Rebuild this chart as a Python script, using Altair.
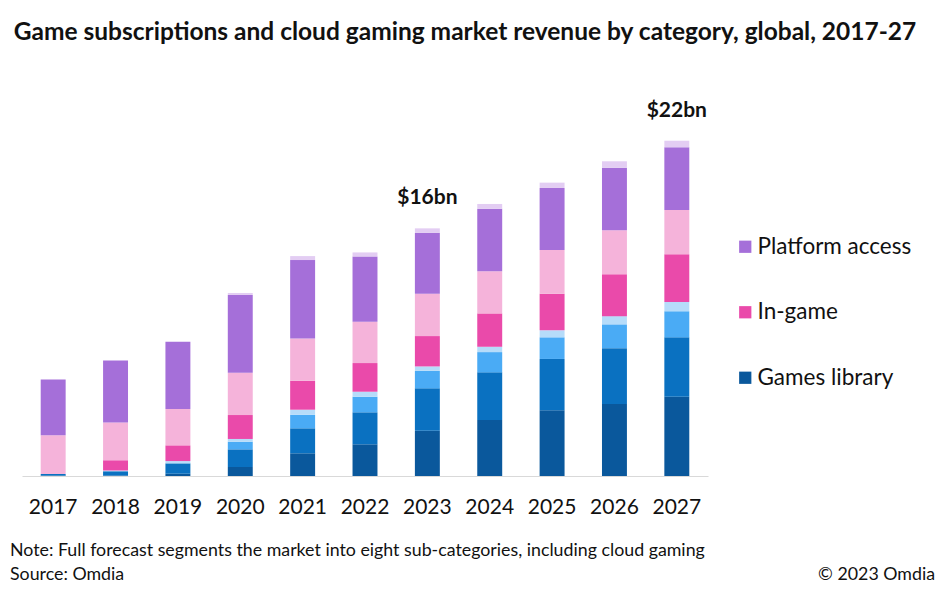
import altair as alt
import pandas as pd

years = ["2017", "2018", "2019", "2020", "2021", "2022", "2023", "2024", "2025", "2026", "2027"]

# US$ bn, bottom to top of each stack
games_library_1 = [0.03, 0.03, 0.15, 0.59, 1.49, 2.08, 2.97, 3.67, 4.31, 4.72, 5.20]
games_library_2 = [0.10, 0.28, 0.68, 1.16, 1.64, 2.10, 2.78, 3.13, 3.37, 3.67, 3.90]
games_library_3 = [0.00, 0.00, 0.00, 0.50, 0.89, 1.02, 1.15, 1.33, 1.42, 1.56, 1.71]
games_library_4 = [0.00, 0.05, 0.15, 0.18, 0.33, 0.33, 0.29, 0.35, 0.46, 0.54, 0.61]
in_game_1 = [0.00, 0.68, 1.03, 1.57, 1.90, 1.88, 1.99, 2.19, 2.40, 2.74, 3.13]
in_game_2 = [2.54, 2.47, 2.38, 2.78, 2.78, 2.71, 2.78, 2.76, 2.87, 2.89, 2.91]
platform_access_1 = [3.67, 4.07, 4.42, 5.10, 5.14, 4.29, 4.00, 4.11, 4.07, 4.11, 4.11]
platform_access_2 = [0.00, 0.00, 0.00, 0.13, 0.26, 0.26, 0.29, 0.31, 0.35, 0.42, 0.43]

subcategories = ["Games library", "Games library 2", "Games library 3", "Games library 4",
                 "In-game", "In-game 2", "Platform access", "Platform access 2"]
series = [games_library_1, games_library_2, games_library_3, games_library_4,
          in_game_1, in_game_2, platform_access_1, platform_access_2]
colors = ["#0A589C", "#0A71C1", "#4AABF5", "#B6DCFA",
          "#EA4AAA", "#F5B3DA", "#A56FD9", "#E3CDF3"]
legend_values = ["Platform access", "In-game", "Games library"]

label_years = ["2023", "2027"]
label_texts = ["$16bn", "$22bn"]

title_text = "Game subscriptions and cloud gaming market revenue by category, global, 2017-27"
note_text = "Note: Full forecast segments the market into eight sub-categories, including cloud gaming"
source_text = "Source: Omdia"
copyright_text = "© 2023 Omdia"

rows = []
for i, yr in enumerate(years):
    for k, name in enumerate(subcategories):
        rows.append({"year": yr, "category": name, "value": series[k][i], "order": k})
df = pd.DataFrame(rows)

totals = [sum(s[i] for s in series) for i in range(len(years))]
label_df = pd.DataFrame({
    "year": label_years,
    "label": label_texts,
    "total": [totals[years.index(y)] for y in label_years],
})

FONT = "Lato"
TXT = "#111111"

x_enc = alt.X(
    "year:N", sort=years, title=None,
    scale=alt.Scale(paddingInner=0.6, paddingOuter=0.3),
    axis=alt.Axis(labelAngle=0, ticks=False, domainColor="#d9d9d9", domainWidth=1,
                  labelFontSize=21, labelPadding=20, labelColor=TXT, labelFont=FONT),
)
y_scale = alt.Scale(domain=[0, 25])

bars = alt.Chart(df).mark_bar().encode(
    x=x_enc,
    y=alt.Y("value:Q", stack="zero", scale=y_scale, axis=None),
    color=alt.Color(
        "category:N",
        scale=alt.Scale(domain=subcategories, range=colors),
        legend=alt.Legend(values=legend_values, orient="none", legendX=712, legendY=140.5,
                          title=None, labelFontSize=22.5, labelFont=FONT, labelColor=TXT,
                          symbolType="square", symbolSize=150, symbolStrokeWidth=0,
                          rowPadding=42.5, labelOffset=1),
    ),
    order=alt.Order("order:Q"),
)

labels = alt.Chart(label_df).mark_text(
    font=FONT, fontSize=21, fontWeight="bold", baseline="bottom", dy=-20, color=TXT
).encode(
    x=alt.X("year:N", sort=years),
    y=alt.Y("total:Q", scale=y_scale),
    text="label:N",
)

title = alt.Chart(pd.DataFrame({"t": [title_text]})).mark_text(
    font=FONT, fontSize=24.5, fontWeight="bold", align="center", baseline="middle", color=TXT
).encode(text="t:N", x=alt.value(443), y=alt.value(-62))

note = alt.Chart(pd.DataFrame({"t": [note_text]})).mark_text(
    font=FONT, fontSize=17.8, align="left", baseline="middle", color=TXT
).encode(text="t:N", x=alt.value(-12), y=alt.value(456))

source = alt.Chart(pd.DataFrame({"t": [source_text]})).mark_text(
    font=FONT, fontSize=17.8, align="left", baseline="middle", color=TXT
).encode(text="t:N", x=alt.value(-12), y=alt.value(480))

copyright_ = alt.Chart(pd.DataFrame({"t": [copyright_text]})).mark_text(
    font=FONT, fontSize=17.8, align="right", baseline="middle", color=TXT
).encode(text="t:N", x=alt.value(913), y=alt.value(480))

chart = alt.layer(bars, labels, title, note, source, copyright_).properties(
    width=686, height=381,
    autosize=alt.AutoSizeParams(type="none"),
    padding={"left": 22, "top": 95, "right": 232, "bottom": 113},
).configure(background="white").configure_view(stroke=None, strokeWidth=0)

chart.save("out.html", embed_options={"renderer": "svg", "actions": False})
